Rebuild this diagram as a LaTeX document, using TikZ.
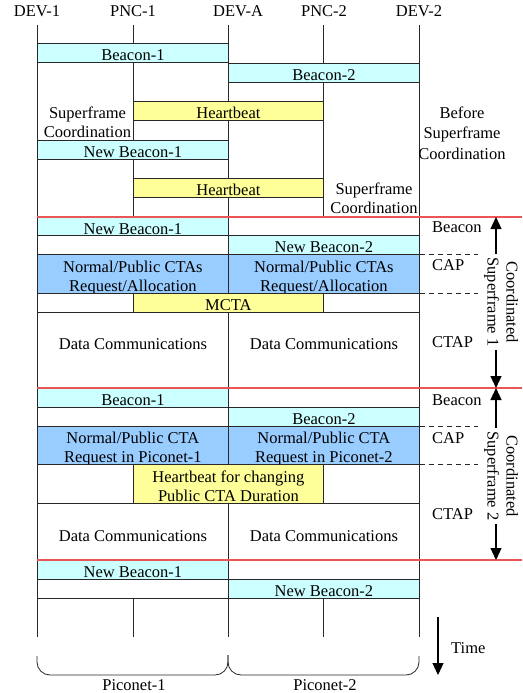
\documentclass[tikz,border=0pt]{standalone}
\usepackage{fontspec}
\setmainfont{Liberation Serif}
\usetikzlibrary{arrows.meta}
\definecolor{cyanf}{RGB}{204,255,255}
\definecolor{yellf}{RGB}{255,255,153}
\definecolor{bluef}{RGB}{153,204,255}
\definecolor{redl}{RGB}{235,85,85}
\definecolor{linec}{RGB}{40,40,40}
\begin{document}
\begin{tikzpicture}[x=1pt,y=-1pt,
  every node/.style={font=\fontsize{16.5}{19}\selectfont, inner sep=0pt},
  cell/.style={draw=linec, line width=0.8pt, fill=white, inner sep=0pt, anchor=north west, align=center},
  row/.style n args={3}{minimum height=#1, text height=#2, text depth=#3},
  one/.style={row={19pt}{17pt}{2pt}},
  half/.style={minimum width=191pt},
  qtr/.style={minimum width=96pt},
  mid/.style={minimum width=190pt},
  cy/.style={fill=cyanf},
  ye/.style={fill=yellf},
  bl/.style={fill=bluef},
  free/.style={anchor=base, align=center},
  life/.style={draw=linec, line width=0.8pt},
  redline/.style={draw=redl, line width=1.2pt},
  dashline/.style={draw=linec, line width=1pt, dash pattern=on 5pt off 4pt},
  bigarrow/.style={draw=black, line width=1.1pt, -{Triangle[width=11pt,length=12pt]}},
  brace/.style={draw=linec, line width=0.8pt, rounded corners=13pt}
]
\useasboundingbox (0,0) rectangle (522,693);

% headers
\node[anchor=base] (hd1) at (37,17) {DEV-1};
\node[anchor=base] (hp1) at (133,17) {PNC-1};
\node[anchor=base] (hda) at (238,17) {DEV-A};
\node[anchor=base] (hp2) at (324,17) {PNC-2};
\node[anchor=base] (hd2) at (419,17) {DEV-2};

% lifelines
\coordinate (l1) at (37,25);
\coordinate (l2) at (133,25);
\coordinate (l3) at (228,25);
\coordinate (l4) at (323,25);
\coordinate (l5) at (419,25);
\coordinate (lb) at (0,637);
\foreach \c in {l1,l2,l3,l4,l5} \draw[life] (\c) -- (\c |- lb);

% before coordination
\node[cell, cy, half, one] (bc1) at (37,43) {Beacon-1};
\node[cell, cy, half, one] (bc2) at (228,63) {Beacon-2};
\node[cell, ye, mid, one] (hb1) at (133,101) {Heartbeat};
\node[cell, cy, half, one] (nbc1) at (37,140) {New Beacon-1};
\node[cell, ye, mid, one] (hb2) at (133,178) {Heartbeat};
\node[free] (sc1) at (87.5,137) {Superframe\\Coordination};
\node[free] (sc2) at (374,213) {Superframe\\Coordination};
\node[free, font=\fontsize{16.5}{20.5}\selectfont] (bsc) at (462,159) {Before\\Superframe\\Coordination};

% coordinated superframe 1
\node[cell, cy, half, row={18pt}{17pt}{1pt}] (nb1s1) at (37,217) {New Beacon-1};
\node[cell, half, row={18pt}{17pt}{1pt}] (e1) at (228,217) {};
\node[cell, half, one] (e2) at (37,235) {};
\node[cell, cy, half, one] (nb2s1) at (228,235) {New Beacon-2};
\node[cell, bl, half, row={39pt}{37pt}{2pt}] (capa) at (37,254) {Normal/Public CTAs\\Request/Allocation};
\node[cell, bl, half, row={39pt}{37pt}{2pt}] (capb) at (228,254) {Normal/Public CTAs\\Request/Allocation};
\node[cell, qtr, one] (e3) at (37,293) {};
\node[cell, ye, mid, one] (mcta) at (133,293) {MCTA};
\node[cell, qtr, one] (e4) at (323,293) {};
\node[cell, half, row={76pt}{37pt}{39pt}] (dca) at (37,312) {Data Communications};
\node[cell, half, row={76pt}{37pt}{39pt}] (dcb) at (228,312) {Data Communications};

% coordinated superframe 2
\node[cell, cy, half, one] (bs2a) at (37,388) {Beacon-1};
\node[cell, half, one] (e5) at (228,388) {};
\node[cell, half, one] (e6) at (37,407) {};
\node[cell, cy, half, one] (bs2b) at (228,407) {Beacon-2};
\node[cell, bl, half, row={38pt}{36pt}{2pt}] (cap2a) at (37,426) {Normal/Public CTA\\Request in Piconet-1};
\node[cell, bl, half, row={38pt}{36pt}{2pt}] (cap2b) at (228,426) {Normal/Public CTA\\Request in Piconet-2};
\node[cell, qtr, row={39pt}{37pt}{2pt}] (e7) at (37,464) {};
\node[cell, ye, mid, row={39pt}{37pt}{2pt}] (hbc) at (133,464) {Heartbeat for changing\\Public CTA Duration};
\node[cell, qtr, row={39pt}{37pt}{2pt}] (e8) at (323,464) {};
\node[cell, half, row={57pt}{38pt}{19pt}] (dc2a) at (37,503) {Data Communications};
\node[cell, half, row={57pt}{38pt}{19pt}] (dc2b) at (228,503) {Data Communications};

% after
\node[cell, cy, half, one] (nb3a) at (37,560) {New Beacon-1};
\node[cell, half, one] (e9) at (228,560) {};
\node[cell, half, one] (e10) at (37,579) {};
\node[cell, cy, half, one] (nb3b) at (228,579) {New Beacon-2};

% red separators
\coordinate (redge) at (522,0);
\draw[redline] (nb1s1.north west) -- (nb1s1.north west -| redge);
\draw[redline] (bs2a.north west) -- (bs2a.north west -| redge);
\draw[redline] (nb3a.north west) -- (nb3a.north west -| redge);

% dashed phase separators
\coordinate (dend) at (478,0);
\draw[dashline] (capb.north east) -- (capb.north east -| dend);
\draw[dashline] (capb.south east) -- (capb.south east -| dend);
\draw[dashline] (cap2b.north east) -- (cap2b.north east -| dend);
\draw[dashline] (cap2b.south east) -- (cap2b.south east -| dend);

% phase labels
\node[anchor=base west] (pb1) at (432,232) {Beacon};
\node[anchor=base west] (pc1) at (432,270) {CAP};
\node[anchor=base west] (pt1) at (432,347) {CTAP};
\node[anchor=base west] (pb2) at (432,405) {Beacon};
\node[anchor=base west] (pc2) at (432,443) {CAP};
\node[anchor=base west] (pt2) at (432,519) {CTAP};

% superframe spans
\node[rotate=-90, align=center, inner sep=3pt] (sf1) at (501,302) {Coordinated\\Superframe 1};
\node[rotate=-90, align=center, inner sep=3pt] (sf2) at (501,476) {Coordinated\\Superframe 2};
\coordinate (a1t) at (496,217);
\coordinate (a1b) at (496,388);
\coordinate (a2t) at (496,388);
\coordinate (a2b) at (496,560);
\draw[bigarrow] (sf1.west -| a1t) -- (a1t);
\draw[bigarrow] (sf1.east -| a1b) -- (a1b);
\draw[bigarrow] (sf2.west -| a2t) -- (a2t);
\draw[bigarrow] (sf2.east -| a2b) -- (a2b);

% time
\coordinate (ts) at (438,617);
\coordinate (te) at (438,675);
\draw[bigarrow] (ts) -- (te);
\node[anchor=base west] (time) at (451,653) {Time};

% piconet braces
\draw[brace] (37,656) -- (37,675) -- (228,675) -- (228,655);
\draw[brace] (228,655) -- (228,675) -- (419,675) -- (419,656);
\node[anchor=base] (pn1) at (134,690) {Piconet-1};
\node[anchor=base] (pn2) at (325,690) {Piconet-2};
\end{tikzpicture}
\end{document}
